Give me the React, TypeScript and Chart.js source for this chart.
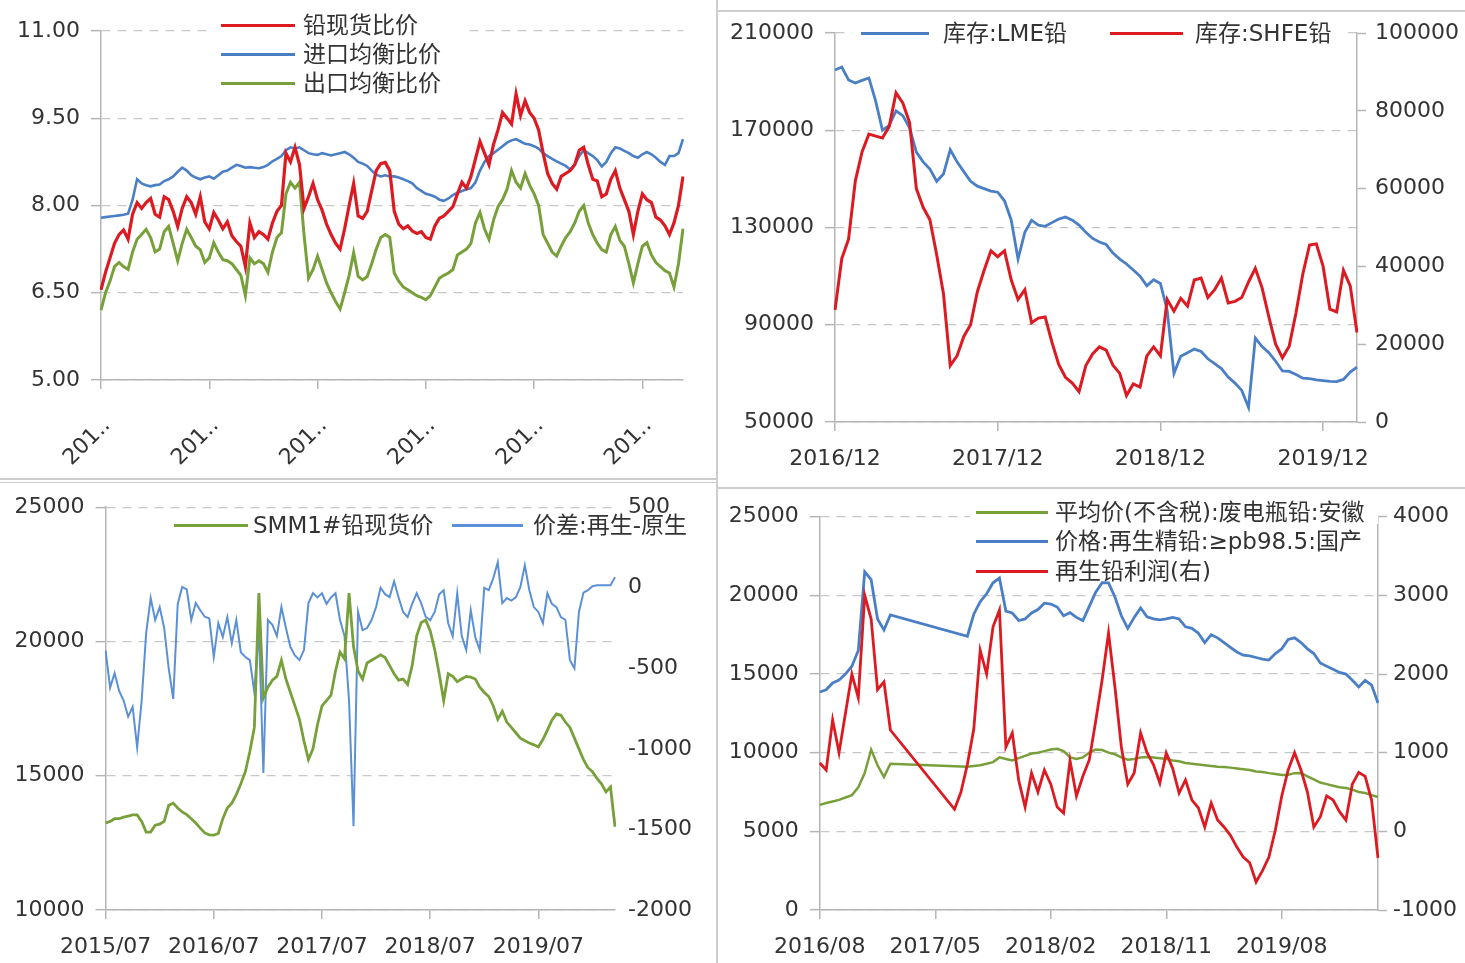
import React, { useEffect, useRef } from "react";
import { Chart, registerables } from "chart.js";

Chart.register(...registerables);

const FONT = "'DejaVu Sans', 'Noto Sans CJK SC', sans-serif";
const TEXT = "#333333";
const AXIS = "#b5b5b5";
const GRID = "#c8c8c8";
const RED = "#dc1a22";
const BLUE = "#4a7fc6";
const GREEN = "#78a03a";
const LIGHTBLUE = "#5b90d6";

// ---------- Panel 1: ratios (semi-monthly from 2014/11) ----------
const spotRatio = [
  6.55, 6.85, 7.1, 7.35, 7.5, 7.58, 7.42, 7.85, 8.05, 7.95,
  8.05, 8.12, 7.85, 7.8, 8.15, 8.1, 7.9, 7.64, 7.95, 8.15,
  8.05, 7.85, 8.15, 7.72, 7.6, 7.88, 7.75, 7.6, 7.72, 7.48,
  7.38, 7.3, 6.95, 7.7, 7.45, 7.55, 7.5, 7.42, 7.7, 7.9,
  8.0, 8.9, 8.75, 9.0, 8.7, 7.95, 8.15, 8.38, 8.1, 7.92,
  7.68, 7.5, 7.35, 7.25, 7.6, 8.0, 8.38, 7.82, 7.78, 7.9,
  8.25, 8.6, 8.72, 8.74, 8.6, 7.9, 7.68, 7.6, 7.65, 7.56,
  7.52, 7.55, 7.45, 7.42, 7.65, 7.78, 7.82, 7.9, 7.98, 8.2,
  8.4, 8.3, 8.5, 8.8, 9.1, 8.9, 8.7, 9.05, 9.3, 9.6,
  9.5, 9.4, 9.92, 9.55, 9.8, 9.6, 9.5, 9.3, 8.9, 8.55,
  8.38, 8.28, 8.5, 8.55, 8.6, 8.7, 8.95, 9.0, 8.7, 8.45,
  8.42, 8.15, 8.2, 8.45, 8.6, 8.3, 8.1, 7.9, 7.5, 7.9,
  8.2, 8.1, 8.05, 7.8, 7.75, 7.65, 7.5, 7.7, 8.0, 8.5,
];
const importRatio = [
  7.79, 7.8, 7.81, 7.82, 7.83, 7.84, 7.86, 8.1, 8.45, 8.38,
  8.35, 8.33, 8.35, 8.36, 8.42, 8.45, 8.5, 8.58, 8.65, 8.6,
  8.52, 8.48, 8.45, 8.48, 8.5, 8.46, 8.52, 8.58, 8.6, 8.65,
  8.7, 8.68, 8.65, 8.66, 8.65, 8.64, 8.66, 8.7, 8.76, 8.8,
  8.85, 8.95, 9.0, 8.98, 9.0, 8.95, 8.9, 8.88, 8.87, 8.9,
  8.88, 8.86, 8.88, 8.9, 8.92, 8.88, 8.82, 8.75, 8.72, 8.68,
  8.6, 8.53, 8.5, 8.52, 8.5, 8.5, 8.48, 8.45, 8.42, 8.38,
  8.3, 8.25, 8.2, 8.18, 8.15, 8.1, 8.08, 8.12, 8.18, 8.22,
  8.25, 8.28, 8.3, 8.4, 8.6, 8.75, 8.85, 8.9, 8.96, 9.02,
  9.08, 9.12, 9.14, 9.1, 9.06, 9.05, 9.02, 8.98, 8.9, 8.85,
  8.8, 8.76, 8.72, 8.68, 8.62, 8.7, 8.85, 8.95, 8.9, 8.85,
  8.78, 8.67, 8.75, 8.9, 9.0, 8.98, 8.94, 8.9, 8.85, 8.82,
  8.88, 8.92, 8.88, 8.82, 8.75, 8.7, 8.85, 8.85, 8.9, 9.14,
];
const exportRatio = [
  6.2, 6.5, 6.7, 6.95, 7.02, 6.95, 6.9, 7.2, 7.42, 7.5,
  7.59, 7.45, 7.2, 7.25, 7.55, 7.64, 7.35, 7.05, 7.35, 7.59,
  7.45, 7.3, 7.24, 7.02, 7.1, 7.36, 7.2, 7.07, 7.05, 7.0,
  6.9, 6.8, 6.45, 7.1, 7.0, 7.05, 7.0, 6.85, 7.2, 7.45,
  7.53, 8.2, 8.4, 8.3, 8.4, 7.5, 6.75, 6.9, 7.13, 6.9,
  6.67, 6.5, 6.35, 6.22, 6.5, 6.8, 7.19, 6.78, 6.72, 6.78,
  7.0, 7.25, 7.45, 7.5, 7.45, 6.84, 6.7, 6.6, 6.55, 6.5,
  6.45, 6.42, 6.38, 6.45, 6.6, 6.75, 6.8, 6.84, 6.9, 7.15,
  7.2, 7.25, 7.35, 7.7, 7.88, 7.6, 7.42, 7.75, 7.98, 8.1,
  8.28, 8.6, 8.4, 8.3, 8.55, 8.35, 8.2, 8.0, 7.5, 7.35,
  7.2, 7.13, 7.3, 7.45, 7.55, 7.7, 7.9, 8.0, 7.7, 7.5,
  7.35, 7.24, 7.2, 7.5, 7.64, 7.4, 7.3, 7.0, 6.67, 7.0,
  7.3, 7.36, 7.15, 7.02, 6.95, 6.88, 6.84, 6.6, 7.0, 7.6,
];
const ratioTicks = [5, 6.5, 8, 9.5, 11];

// ---------- Panel 2: inventories (semi-monthly from 2016/12) ----------
const lmeStock = [
  194800, 196000, 190700, 189400, 190500, 191500, 182000, 170000, 172000, 178000,
  176000, 171000, 161000, 157000, 154000, 149000, 152000, 162000, 157000, 153000,
  149000, 147000, 146000, 145000, 144500, 141000, 133000, 117000, 128000, 133000,
  131000, 130500, 132000, 133500, 134300, 133000, 131000, 128000, 125500, 124000,
  123000, 119500, 117000, 115000, 112500, 110000, 106000, 108500, 107000, 96000,
  70000, 77000, 78500, 80000, 79000, 76000, 74000, 72000, 68500, 66000,
  63000, 56000, 84500, 81000, 78500, 75000, 71000, 70800, 69500, 68000,
  67800, 67300, 67000, 66700, 66600, 67500, 70500, 72600,
];
const shfeStock = [
  28800, 42000, 47000, 62000, 69500, 74000, 73500, 73000, 76000, 84600,
  82000, 77000, 60000, 55200, 52000, 43000, 33000, 14500, 17000, 22000,
  25000, 33500, 39000, 44000, 42500, 44000, 36500, 31500, 34000, 25500,
  26700, 27000, 20500, 14800, 11500, 10000, 7800, 14500, 17500, 19300,
  18500, 14600, 12500, 6800, 9800, 9000, 17000, 19300, 17000, 31500,
  28500, 31800, 29800, 36500, 37000, 32000, 34000, 37000, 30600, 31000,
  32000, 36000, 39500, 34500, 27000, 20000, 16500, 19500, 28000, 38000,
  45500, 45800, 40000, 29000, 28300, 39000, 35000, 23000,
];

// ---------- Panel 3: SMM1# spot & spread (semi-monthly from 2015/07) ----------
const smmSpot = [
  13240, 13300, 13400, 13400, 13460, 13500, 13540, 13540, 13300, 12900,
  12900, 13160, 13200, 13300, 13900, 13980, 13800, 13650, 13550, 13400,
  13240, 13050, 12870, 12800, 12790, 12850, 13400, 13800, 13980, 14300,
  14700, 15150, 15900, 16800, 21800, 17900, 18300, 18560, 18700, 19300,
  18600, 18100, 17600, 17100, 16300, 15600, 16000, 16900, 17600, 17800,
  18000, 18900, 19600, 19350, 21800, 19800, 18900, 18600, 19200, 19300,
  19400, 19500, 19400, 19100, 18800, 18560, 18600, 18400, 19100, 20200,
  20700, 20800, 20400, 19700, 18800, 17800, 18800, 18700, 18500, 18600,
  18700, 18670, 18600, 18300, 18100, 17950, 17600, 17100, 17400, 17000,
  16800, 16600, 16400, 16300, 16220, 16150, 16070, 16350, 16700, 17070,
  17300, 17250, 17000, 16800, 16400, 16000, 15600, 15300, 15150, 14900,
  14700, 14400, 14580, 13100,
];
const recycledSpread = [
  -390, -620, -530, -640, -700, -800, -740, -990, -700, -280,
  -64, -200, -120, -250, -500, -690, -100, 5, -10, -200,
  -95, -140, -180, -190, -430, -220, -306, -182, -344, -200,
  -400, -430, -449, -650, -250, -1150, -200, -230, -300, -120,
  -250, -368, -420, -449, -387, -95, -34, -60, -34, -100,
  -60, -34, -200, -300, -700, -1480, -150, -263, -250, -200,
  -120, 0, -40, -58, 40, -60, -150, -182, -100, -34,
  -95, -180, -201, -150, -40, -15, -220, -300, -34, -300,
  -387, -139, -306, -387, 0, -15, 60, 159, -95, -64,
  -80, -60, 4, 140, -15, -120, -150, -220, -34, -100,
  -120, -182, -200, -450, -500, -150, -30, -15, 10, 16,
  16, 16, 16, 66,
];

// ---------- Panel 4: scrap battery, recycled lead, profit (semi-monthly from 2016/08) ----------
const scrapBattery = [
  6680, 6800, 6900, 7000, 7150, 7300, 7800, 8700, 10200, 9200,
  8450, 9300, null, null, null, null, null, null, null, null,
  null, null, null, 9100, 9150, 9200, 9300, 9400, 9700, 9600,
  9500, 9650, 9800, 9950, 10000, 10100, 10200, 10250, 10100, 9700,
  9600, 9700, 10000, 10200, 10170, 10000, 9900, 9700, 9550, 9600,
  9700, 9730, 9700, 9650, 9600, 9500, 9450, 9350, 9300, 9250,
  9200, 9150, 9100, 9090, 9050, 9000, 8950, 8900, 8800, 8770,
  8700, 8650, 8580, 8600, 8700, 8710, 8500, 8300, 8100, 8000,
  7900, 7800, 7760, 7650, 7500, 7440, 7300, 7180,
];
const recycledPrice = [
  13860, 14000, 14430, 14620, 15000, 15500, 16500, 21500, 21000, 18500,
  17800, 18750, null, null, null, null, null, null, null, null,
  null, null, null, 17400, 18800, 19600, 20100, 20800, 21100, 19000,
  18880, 18400, 18500, 18880, 19100, 19500, 19450, 19260, 18700, 18900,
  18600, 18400, 19300, 20200, 20800, 20790, 19900, 18700, 17900, 18600,
  19200, 18630, 18500, 18440, 18500, 18600, 18500, 18000, 17900, 17600,
  17000, 17500, 17300, 17000, 16700, 16400, 16200, 16150, 16050, 15950,
  15890, 16300, 16600, 17200, 17300, 17000, 16600, 16300, 15700, 15500,
  15300, 15100, 15000, 14600, 14180, 14600, 14300, 13160,
];
const recycledProfit = [
  869, 780, 1415, 1000, 1500, 2000, 1700, 3000, 2700, 1800,
  1900, 1288, null, null, null, null, null, null, null, null,
  null, 280, 500, 850, 1300, 2300, 2000, 2600, 2814, 1072,
  1250, 650, 309, 742, 500, 780, 600, 309, 233, 900,
  450, 700, 907, 1400, 1924, 2521, 1835, 1072, 600, 742,
  1250, 1000, 850, 615, 996, 800, 487, 653, 398, 300,
  55, 360, 144, 55, -50, -200, -326, -400, -644, -500,
  -326, 17, 450, 780, 1000, 780, 500, 55, 182, 450,
  398, 250, 144, 600, 750, 700, 398, -339,
];

function halfMonthDates(y0: number, m0: number, n: number): string[] {
  const out: string[] = [];
  for (let i = 0; i < n; i++) {
    const k = m0 - 1 + Math.floor(i / 2);
    const yy = y0 + Math.floor(k / 12);
    const mm = (k % 12) + 1;
    out.push(`${yy}/${String(mm).padStart(2, "0")}/${i % 2 === 0 ? "01" : "16"}`);
  }
  return out;
}

const ratioDates = halfMonthDates(2014, 11, spotRatio.length);
const stockDates = halfMonthDates(2016, 12, lmeStock.length);
const spreadDates = halfMonthDates(2015, 7, smmSpot.length);
const profitDates = halfMonthDates(2016, 8, recycledProfit.length);

const tickFont = { family: FONT, size: 22 };

function xAxis(height: number, every: number, extra: any = {}) {
  return {
    type: "category",
    offset: false,
    afterBuildTicks: (s: any) => {
      s.ticks = s.ticks.filter((t: any) => t.value % every === 0);
    },
    ticks: {
      autoSkip: false,
      maxRotation: 0,
      minRotation: 0,
      padding: 15,
      font: tickFont,
      color: TEXT,
      callback: function (this: any, v: any) {
        return String(this.getLabelForValue(v)).slice(0, 7);
      },
      ...(extra.ticks || {}),
    },
    grid: {
      drawOnChartArea: false,
      drawTicks: true,
      tickLength: 9,
      color: AXIS,
      tickColor: AXIS,
      lineWidth: 1.5,
      tickWidth: 1.5,
    },
    border: { display: true, color: AXIS, width: 1.5 },
    afterFit: (s: any) => {
      s.height = height;
    },
  };
}

function leftAxis(min: number, max: number, step: number, width: number, fmt: (v: number) => string) {
  return {
    type: "linear",
    position: "left",
    min,
    max,
    ticks: { stepSize: step, callback: (v: any) => fmt(Number(v)), font: tickFont, color: TEXT, padding: 11 },
    grid: { color: GRID, lineWidth: 1.3, tickLength: 10, tickColor: AXIS, tickWidth: 1.5, drawOnChartArea: true },
    border: { display: true, color: AXIS, width: 1.5, dash: [9, 7] },
    afterFit: (s: any) => {
      s.width = width;
    },
  };
}

function rightAxis(min: number, max: number, step: number, width: number, showLine: boolean, pad: number) {
  return {
    type: "linear",
    position: "right",
    min,
    max,
    ticks: { stepSize: step, callback: (v: any) => String(v), font: tickFont, color: TEXT, padding: pad },
    grid: showLine
      ? { drawOnChartArea: false, drawTicks: true, tickLength: 9, color: AXIS, tickColor: AXIS, tickWidth: 1.5 }
      : { display: false, drawTicks: false },
    border: { display: showLine, color: AXIS, width: 1.5 },
    afterFit: (s: any) => {
      s.width = width;
    },
  };
}

function line(label: string, data: any[], color: string, width: number, axis: string, spanGaps = false) {
  return {
    label,
    data,
    borderColor: color,
    backgroundColor: color,
    borderWidth: width,
    pointRadius: 0,
    tension: 0,
    yAxisID: axis,
    spanGaps,
    fill: false,
  };
}

function baseOptions(padding: any, scales: any) {
  return {
    responsive: false,
    animation: false,
    devicePixelRatio: 1,
    events: [],
    layout: { padding },
    plugins: { legend: { display: false }, tooltip: { enabled: false }, title: { display: false } },
    scales,
  };
}

const ratioConfig = () => ({
  type: "line",
  data: {
    labels: ratioDates,
    datasets: [
      line("铅现货比价", spotRatio, RED, 3.2, "y"),
      line("进口均衡比价", importRatio, BLUE, 2.6, "y"),
      line("出口均衡比价", exportRatio, GREEN, 3, "y"),
    ],
  },
  options: baseOptions(
    { left: 0, right: 33, top: 31, bottom: 0 },
    {
      x: xAxis(99, 24, {
        ticks: {
          maxRotation: 45,
          minRotation: 45,
          padding: 24,
          labelOffset: 6,
          callback: function (this: any, v: any) {
            return String(this.getLabelForValue(v)).slice(0, 3) + "..";
          },
        },
      }),
      y: leftAxis(5, 11, 1.5, 101, (v) => v.toFixed(2)),
    }
  ),
});

const stockConfig = () => ({
  type: "line",
  data: {
    labels: stockDates,
    datasets: [
      line("库存:SHFE铅", shfeStock, RED, 3, "y1"),
      line("库存:LME铅", lmeStock, BLUE, 2.8, "y"),
    ],
  },
  options: baseOptions(
    { left: 0, right: 0, top: 33, bottom: 0 },
    {
      x: xAxis(58, 24),
      y: leftAxis(50000, 210000, 40000, 117, (v) => String(v)),
      y1: rightAxis(0, 100000, 20000, 108, true, 9),
    }
  ),
});

const spreadConfig = () => ({
  type: "line",
  data: {
    labels: spreadDates,
    datasets: [
      line("SMM1#铅现货价", smmSpot, GREEN, 2.8, "y"),
      line("价差:再生-原生", recycledSpread, LIGHTBLUE, 2, "y1"),
    ],
  },
  options: baseOptions(
    { left: 0, right: 0, top: 26, bottom: 0 },
    {
      x: xAxis(53, 24),
      y: leftAxis(10000, 25000, 5000, 105.6, (v) => String(v)),
      y1: rightAxis(-2000, 500, 500, 101, false, 13),
    }
  ),
});

const profitConfig = () => ({
  type: "line",
  data: {
    labels: profitDates,
    datasets: [
      line("再生铅利润(右)", recycledProfit, RED, 2.8, "y1", true),
      line("价格:再生精铅:≥pb98.5:国产", recycledPrice, BLUE, 2.8, "y", true),
      line("平均价(不含税):废电瓶铅:安徽", scrapBattery, GREEN, 2.5, "y", true),
    ],
  },
  options: baseOptions(
    { left: 0, right: 0, top: 35.7, bottom: 0 },
    {
      x: xAxis(53, 18),
      y: leftAxis(0, 25000, 5000, 101.8, (v) => String(v)),
      y1: rightAxis(-1000, 4000, 1000, 87, true, 6),
    }
  ),
});

type Box = { left: number; top: number; width: number; height: number };

function LineChart({ box, build }: { box: Box; build: () => any }) {
  const ref = useRef<HTMLCanvasElement | null>(null);
  useEffect(() => {
    const chart = new Chart(ref.current as HTMLCanvasElement, build());
    return () => chart.destroy();
  }, []);
  return (
    <canvas
      ref={ref}
      width={box.width}
      height={box.height}
      style={{ position: "absolute", left: box.left, top: box.top, width: box.width, height: box.height }}
    />
  );
}

type LegendItem = { text: string; color: string; x1: number; x2: number; tx: number; y: number };

function Legend({ items, bg }: { items: LegendItem[]; bg?: Box }) {
  return (
    <>
      {bg && <div style={{ position: "absolute", ...bg, background: "#ffffff" }} />}
      {items.map((it, i) => (
        <React.Fragment key={i}>
          <div
            style={{
              position: "absolute",
              left: it.x1,
              top: it.y - 1.5,
              width: it.x2 - it.x1,
              height: 3,
              background: it.color,
            }}
          />
          <div
            style={{
              position: "absolute",
              left: it.tx,
              top: it.y - 15,
              height: 30,
              lineHeight: "30px",
              fontSize: 23,
              fontFamily: FONT,
              color: TEXT,
              whiteSpace: "nowrap",
            }}
          >
            {it.text}
          </div>
        </React.Fragment>
      ))}
    </>
  );
}

function Sep({ left, top, width, height }: Box) {
  return <div style={{ position: "absolute", left, top, width, height, background: "#cdcdcd" }} />;
}

export default function App() {
  return (
    <div
      style={{
        position: "absolute",
        left: 0,
        top: 0,
        width: 1465,
        height: 963,
        background: "#ffffff",
        overflow: "hidden",
      }}
    >
      <LineChart box={{ left: 0, top: 0, width: 716, height: 479 }} build={ratioConfig} />
      <LineChart box={{ left: 718, top: 0, width: 747, height: 480 }} build={stockConfig} />
      <LineChart box={{ left: 0, top: 481, width: 716, height: 482 }} build={spreadConfig} />
      <LineChart box={{ left: 718, top: 481, width: 747, height: 482 }} build={profitConfig} />

      <Legend
        bg={{ left: 214, top: 13, width: 250, height: 25 }}
        items={[
          { text: "铅现货比价", color: RED, x1: 221, x2: 295, tx: 303, y: 25 },
          { text: "进口均衡比价", color: BLUE, x1: 221, x2: 295, tx: 303, y: 54 },
          { text: "出口均衡比价", color: GREEN, x1: 221, x2: 295, tx: 303, y: 83 },
        ]}
      />
      <Legend
        bg={{ left: 852, top: 20, width: 496, height: 26 }}
        items={[
          { text: "库存:LME铅", color: BLUE, x1: 861, x2: 929, tx: 943, y: 33 },
          { text: "库存:SHFE铅", color: RED, x1: 1110, x2: 1183, tx: 1195, y: 33 },
        ]}
      />
      <Legend
        items={[
          { text: "SMM1#铅现货价", color: GREEN, x1: 174, x2: 248, tx: 253, y: 525 },
          { text: "价差:再生-原生", color: LIGHTBLUE, x1: 452, x2: 523, tx: 533, y: 525 },
        ]}
      />
      <Legend
        bg={{ left: 970, top: 499, width: 408, height: 25 }}
        items={[
          { text: "平均价(不含税):废电瓶铅:安徽", color: GREEN, x1: 976, x2: 1048, tx: 1055, y: 512 },
          { text: "价格:再生精铅:≥pb98.5:国产", color: BLUE, x1: 976, x2: 1048, tx: 1055, y: 541 },
          { text: "再生铅利润(右)", color: RED, x1: 976, x2: 1048, tx: 1055, y: 571 },
        ]}
      />

      <Sep left={716} top={0} width={2} height={963} />
      <Sep left={0} top={478} width={716} height={2} />
      <Sep left={0} top={482} width={716} height={1} />
      <Sep left={718} top={10} width={747} height={2} />
      <Sep left={718} top={487} width={747} height={2} />
    </div>
  );
}
